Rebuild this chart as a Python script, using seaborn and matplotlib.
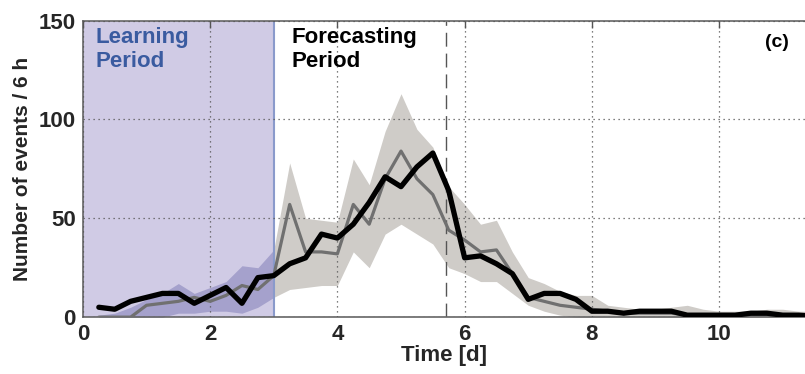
import matplotlib
matplotlib.use("Agg")
import matplotlib.pyplot as plt
import seaborn as sns
import numpy as np
import pandas as pd

sns.set_theme(style="white")
plt.rcParams["font.family"] = ["Liberation Sans", "DejaVu Sans"]

# time in days (6 h bins)
time_d = [0.25, 0.5, 0.75, 1.0, 1.25, 1.5, 1.75, 2.0, 2.25, 2.5, 2.75, 3.0,
          3.25, 3.5, 3.75, 4.0, 4.25, 4.5, 4.75, 5.0, 5.25, 5.5, 5.75, 6.0,
          6.25, 6.5, 6.75, 7.0, 7.25, 7.5, 7.75, 8.0, 8.25, 8.5, 8.75, 9.0,
          9.25, 9.5, 9.75, 10.0, 10.25, 10.5, 10.75, 11.0, 11.25, 11.5]
observed = [5, 4, 8, 10, 12, 12, 7, 11, 15, 7, 20, 21,
            27, 30, 42, 40, 47, 58, 71, 66, 76, 83, 64, 30,
            31, 27, 22, 9, 12, 12, 9, 3, 3, 2, 3, 3,
            3, 1, 1, 1, 1, 2, 2, 1, 1, 0.5]
forecast = [0, 0, 0, 6, 7, 8, 10, 8, 11, 16, 14, 21,
            57, 33, 33, 32, 57, 47, 70, 84, 70, 62, 44, 39,
            33, 34, 22, 10, 8, 6, 5, 4, 3, 2, 2, 2,
            2, 1, 1, 1, 1, 1, 1, 1, 1, 1]
upper = [1, 2, 5, 9, 12, 17, 12, 15, 18, 26, 25, 34,
         78, 50, 49, 48, 80, 67, 94, 113, 95, 86, 66, 57,
         47, 49, 33, 20, 17, 13, 11, 11, 6, 5, 4, 4,
         5, 6, 4, 3, 3, 3, 4, 4, 3, 3]
lower = [0, 0, 0, 0, 0, 2, 2, 3, 3, 2, 5, 10,
         14, 15, 16, 16, 33, 25, 42, 47, 42, 37, 25, 22,
         18, 18, 12, 6, 3, 1, 0, 0, 0, 0, 0, 0,
         0, 0, 0, 0, 0, 0, 0, 0, 0, 0]

learning_end = 3.0
marker_day = 5.7

df = pd.DataFrame({"t": time_d, "obs": observed, "fc": forecast,
                   "lo": lower, "hi": upper})

fig = plt.figure(figsize=(8.05, 3.74), dpi=100)
ax = fig.add_axes([0.103, 0.152, 0.897, 0.793])

ax.axvspan(0, learning_end, color="#d0cbe5", zorder=0, lw=0)
learn = df[df["t"] <= learning_end]
fcst = df[df["t"] >= learning_end]
ax.fill_between(learn["t"], learn["lo"], learn["hi"], color="#a5a1cc", lw=0, zorder=1)
ax.fill_between(fcst["t"], fcst["lo"], fcst["hi"], color="#cfccc8", lw=0, zorder=1)

ax.axvline(learning_end, color="#8a9acb", lw=1.5, zorder=2)
ax.axvline(marker_day, color="#555555", lw=1.0, dashes=(10, 5), zorder=2)

sns.lineplot(data=df, x="t", y="fc", color="#707070", lw=2.3, ax=ax, zorder=4)
sns.lineplot(data=df, x="t", y="obs", color="black", lw=3.8, ax=ax, zorder=5)

ax.set_xlim(0, 11.35)
ax.set_ylim(0, 150)
ax.set_xticks([0, 2, 4, 6, 8, 10])
ax.set_yticks([0, 50, 100, 150])
ax.grid(True, color="#555555", ls=(0, (1, 3)), lw=0.9)
ax.set_axisbelow(False)
for gl in ax.get_xgridlines() + ax.get_ygridlines():
    gl.set_zorder(3)

ax.tick_params(direction="in", length=5, width=1, color="#555555",
               top=True, labelsize=16, pad=5)
for lbl in ax.get_xticklabels() + ax.get_yticklabels():
    lbl.set_fontweight("bold")
ax.set_xlabel("Time [d]", fontsize=16, fontweight="bold", labelpad=0)
ax.set_ylabel("Number of events / 6 h", fontsize=15, fontweight="bold", labelpad=5)

for side in ["left", "top", "bottom"]:
    ax.spines[side].set_color("#666666")
    ax.spines[side].set_linewidth(1.2)
ax.spines["right"].set_visible(False)

ax.text(0.2, 147, "Learning\nPeriod", color="#3a5ba0", fontsize=16,
        fontweight="bold", va="top", ha="left", linespacing=1.2)
ax.text(3.28, 147, "Forecasting\nPeriod", color="black", fontsize=16,
        fontweight="bold", va="top", ha="left", linespacing=1.2)
ax.text(10.72, 139, "(c)", color="black", fontsize=14,
        fontweight="bold", va="center", ha="left")

fig.savefig("out.png", dpi=100)
